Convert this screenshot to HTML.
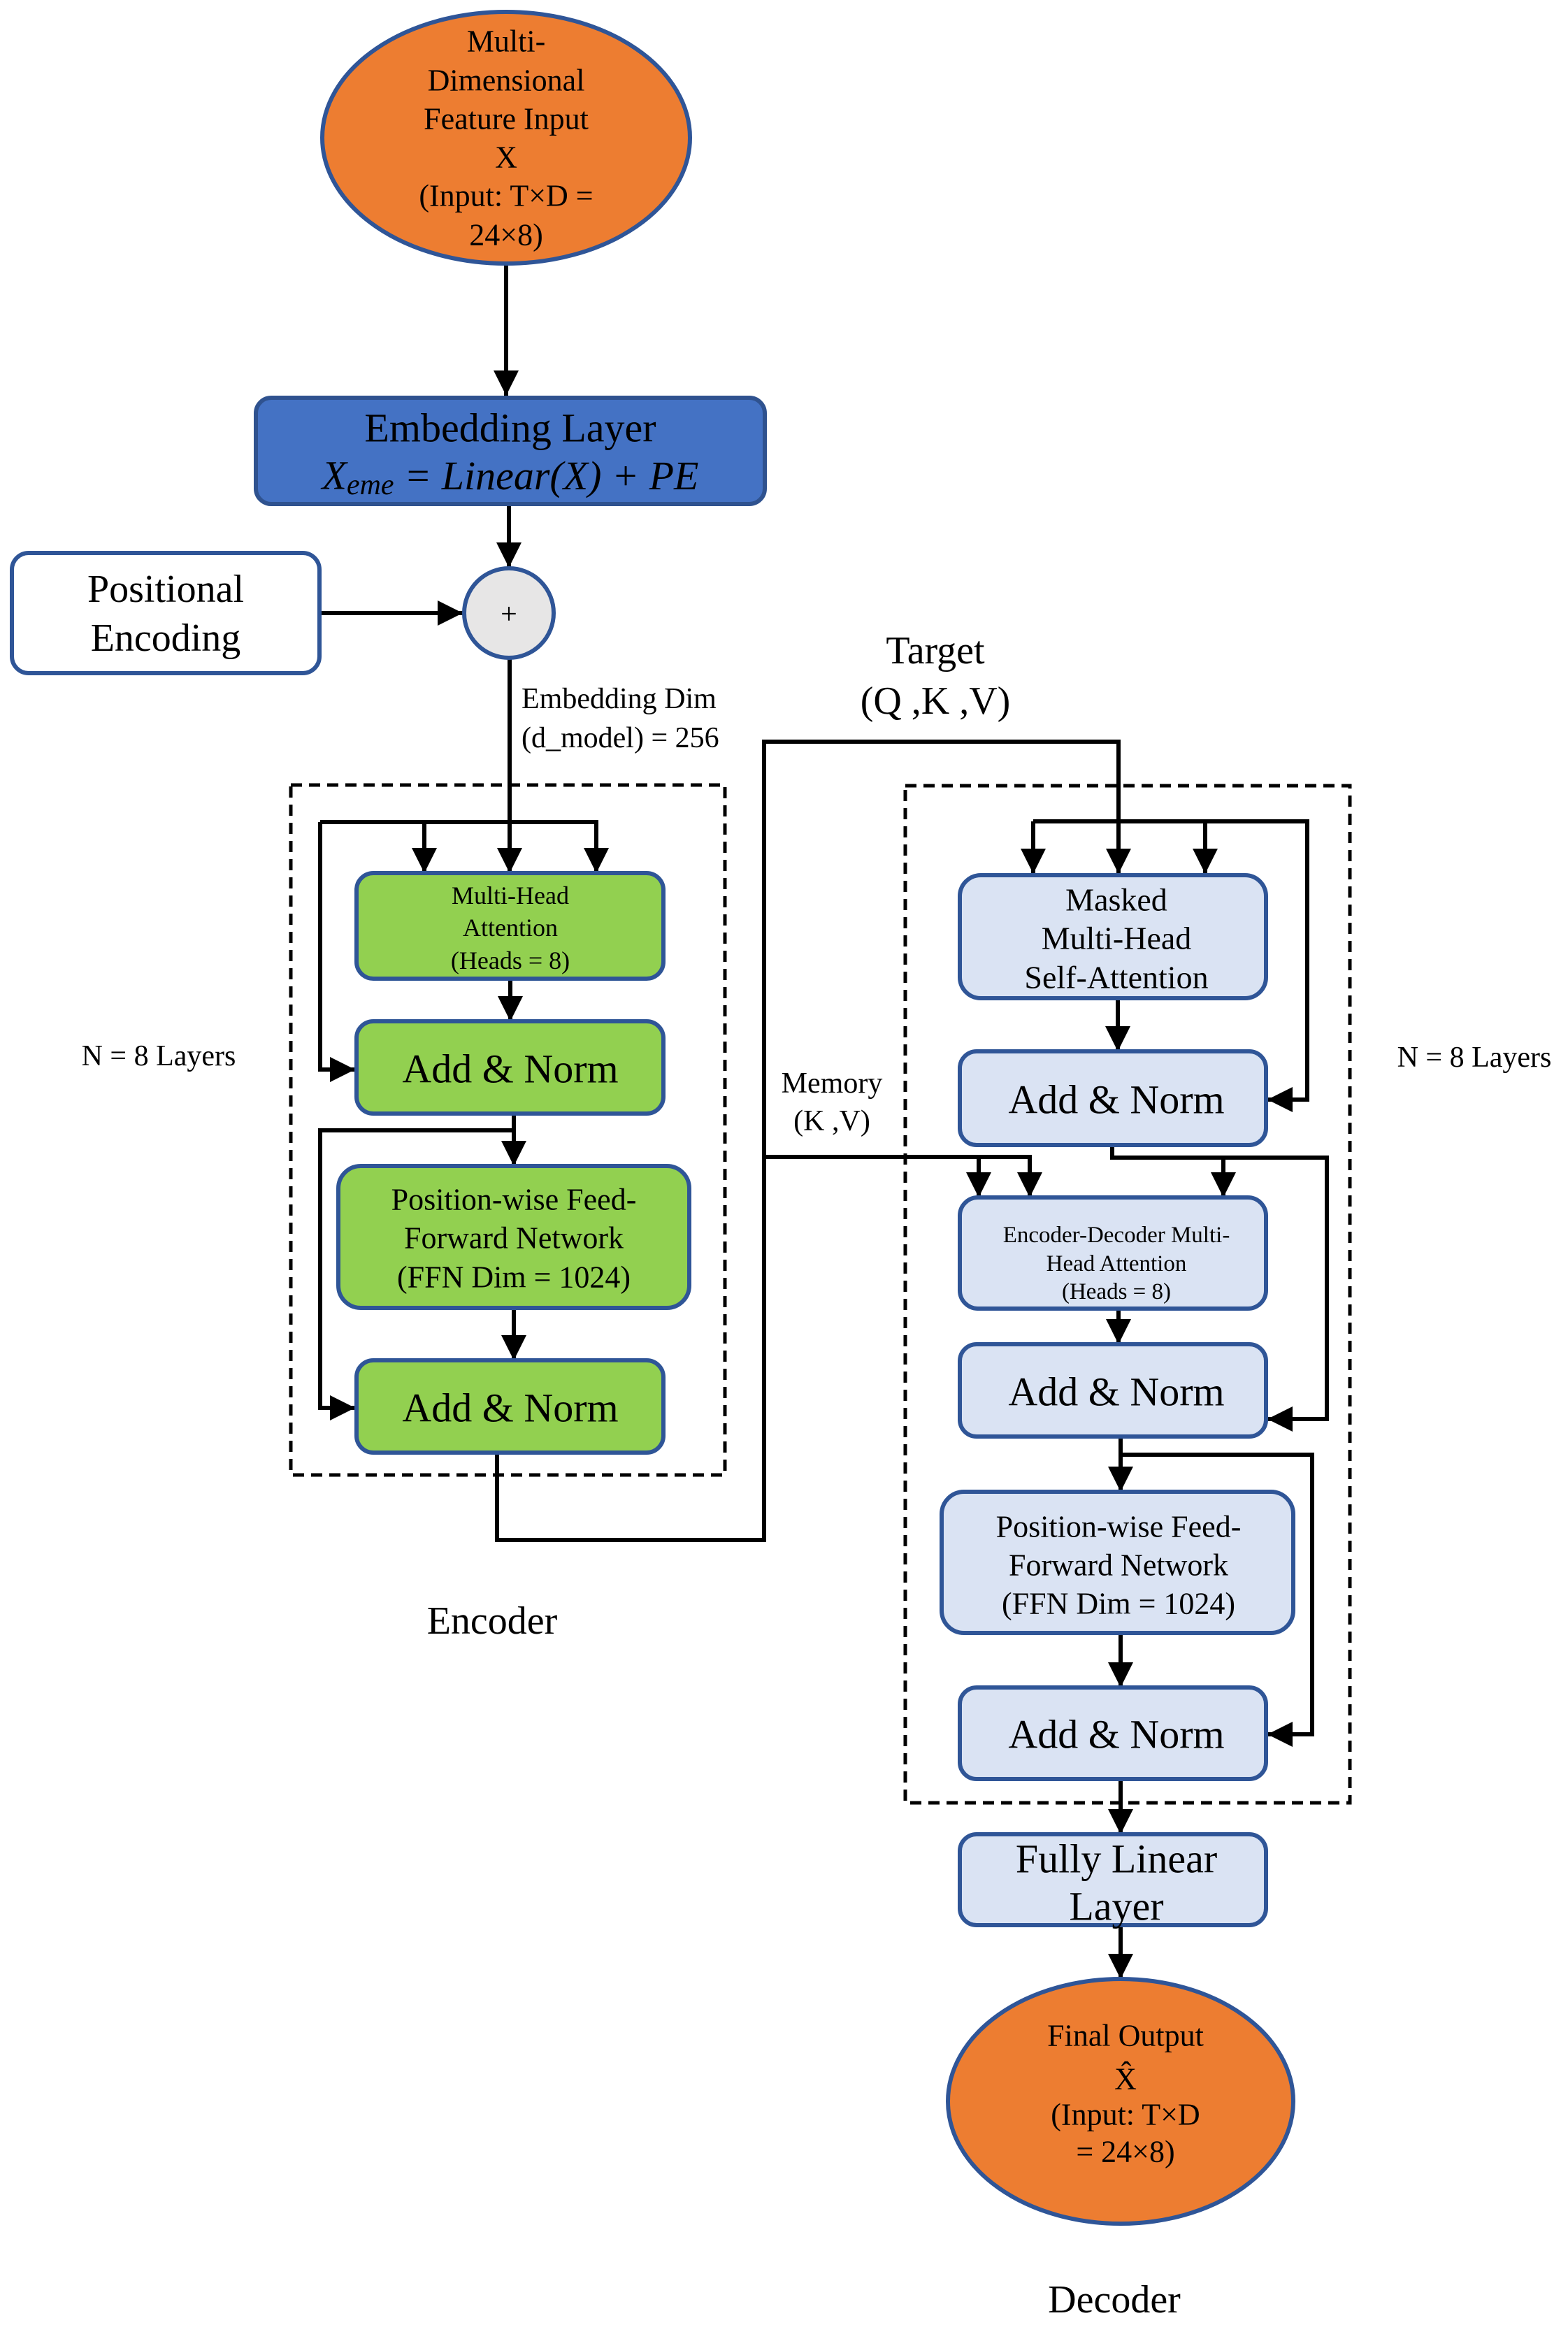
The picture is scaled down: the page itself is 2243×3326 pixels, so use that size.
<!DOCTYPE html>
<html><head><meta charset="utf-8"><style>
html,body{margin:0;padding:0;background:#fff;}
svg{display:block;}
text{font-family:"Liberation Serif","Times New Roman","DejaVu Serif",serif;fill:#000;text-anchor:middle;dominant-baseline:central;}
</style></head><body>
<svg width="2243" height="3326" viewBox="0 0 2243 3326" xmlns="http://www.w3.org/2000/svg">
<defs>
<marker id="a" markerUnits="userSpaceOnUse" markerWidth="38" markerHeight="38" refX="36" refY="18" orient="auto">
<path d="M0,0 L36,18 L0,36 z" fill="#000"/></marker>
</defs>
<g fill="none" stroke="#000" stroke-width="5" stroke-dasharray="16,10">
<rect x="416" y="1123" width="621" height="987"/>
<rect x="1295" y="1124" width="636" height="1455"/>
</g>
<g fill="none" stroke="#000" stroke-width="6">
<path d="M724,377 L724,566" marker-end="url(#a)"/>
<path d="M728,721 L728,812" marker-end="url(#a)"/>
<path d="M457,877 L662,877" marker-end="url(#a)"/>
<path d="M729,940 L729,1249" marker-end="url(#a)"/>
<path d="M458,1176 L458,1530 L508,1530" marker-end="url(#a)"/>
<path d="M458,1176 L853,1176 L853,1249" marker-end="url(#a)"/>
<path d="M607,1176 L607,1249" marker-end="url(#a)"/>
<path d="M730,1400 L730,1461" marker-end="url(#a)"/>
<path d="M735,1593 L735,1668" marker-end="url(#a)"/>
<path d="M735,1617 L458,1617 L458,2014 L508,2014" marker-end="url(#a)"/>
<path d="M735,1871 L735,1946" marker-end="url(#a)"/>
<path d="M711,2078 L711,2203 L1093,2203 L1093,1061 L1600,1061 L1600,1250" marker-end="url(#a)"/>
<path d="M1093,1655 L1473,1655 L1473,1713" marker-end="url(#a)"/>
<path d="M1400,1655 L1400,1713" marker-end="url(#a)"/>
<path d="M1478,1175 L1870,1175 L1870,1573 L1813,1573" marker-end="url(#a)"/>
<path d="M1478,1175 L1478,1250" marker-end="url(#a)"/>
<path d="M1724,1175 L1724,1250" marker-end="url(#a)"/>
<path d="M1599,1428 L1599,1504" marker-end="url(#a)"/>
<path d="M1591,1638 L1591,1656 L1898,1656 L1898,2030 L1813,2030" marker-end="url(#a)"/>
<path d="M1750,1656 L1750,1713" marker-end="url(#a)"/>
<path d="M1600,1872 L1600,1923" marker-end="url(#a)"/>
<path d="M1603,2055 L1603,2134" marker-end="url(#a)"/>
<path d="M1603,2081 L1877,2081 L1877,2481 L1813,2481" marker-end="url(#a)"/>
<path d="M1603,2336 L1603,2414" marker-end="url(#a)"/>
<path d="M1603,2545 L1603,2624" marker-end="url(#a)"/>
<path d="M1603,2754 L1603,2831" marker-end="url(#a)"/>
</g>
<g stroke="#2F5597" stroke-width="6">
<ellipse cx="724" cy="197" rx="263" ry="180" fill="#ED7D31"/>
<rect x="366" y="569" width="728" height="152" rx="22" fill="#4472C4" stroke="#2F528F"/>
<rect x="17" y="791" width="440" height="172" rx="24" fill="#fff"/>
<circle cx="728" cy="877" r="64" fill="#E7E6E6"/>
<rect x="510" y="1249" width="439" height="151" rx="24" fill="#92D050"/>
<rect x="510" y="1461" width="439" height="132" rx="24" fill="#92D050"/>
<rect x="484" y="1668" width="502" height="203" rx="32" fill="#92D050"/>
<rect x="510" y="1946" width="439" height="132" rx="24" fill="#92D050"/>
<rect x="1373" y="1252" width="438" height="176" rx="30" fill="#DAE3F3"/>
<rect x="1373" y="1504" width="438" height="134" rx="24" fill="#DAE3F3"/>
<rect x="1373" y="1713" width="438" height="159" rx="26" fill="#DAE3F3"/>
<rect x="1373" y="1923" width="438" height="132" rx="24" fill="#DAE3F3"/>
<rect x="1347" y="2134" width="503" height="202" rx="32" fill="#DAE3F3"/>
<rect x="1373" y="2414" width="438" height="131" rx="24" fill="#DAE3F3"/>
<rect x="1373" y="2624" width="438" height="130" rx="24" fill="#DAE3F3"/>
<ellipse cx="1603" cy="3006" rx="247" ry="175" fill="#ED7D31"/>
</g>
<g font-size="44">
<text x="724" y="59">Multi-</text>
<text x="724" y="115">Dimensional</text>
<text x="724" y="170">Feature Input</text>
<text x="724" y="225">X</text>
<text x="724" y="280">(Input: T×D =</text>
<text x="724" y="336">24×8)</text>
</g>
<text x="730" y="612" font-size="58">Embedding Layer</text>
<text x="730" y="680" font-size="58" font-style="italic">X<tspan font-size="42" dy="14">eme</tspan><tspan dy="-14"> = Linear(X) + PE</tspan></text>
<text x="237" y="843" font-size="56">Positional</text>
<text x="237" y="913" font-size="56">Encoding</text>
<text x="728" y="879" font-size="42">+</text>
<text x="746" y="1000" font-size="42" style="text-anchor:start">Embedding Dim</text>
<text x="746" y="1056" font-size="42" style="text-anchor:start">(d_model) = 256</text>
<text x="1338" y="931" font-size="56">Target</text>
<text x="1338" y="1003" font-size="56">(Q ,K ,V)</text>
<g font-size="36">
<text x="730" y="1281">Multi-Head</text>
<text x="730" y="1327">Attention</text>
<text x="730" y="1374">(Heads = 8)</text>
</g>
<text x="730" y="1529" font-size="58">Add &amp; Norm</text>
<g font-size="44">
<text x="735" y="1716">Position-wise Feed-</text>
<text x="735" y="1771">Forward Network</text>
<text x="735" y="1827">(FFN Dim = 1024)</text>
</g>
<text x="730" y="2014" font-size="58">Add &amp; Norm</text>
<text x="227" y="1511" font-size="42">N = 8 Layers</text>
<text x="2109" y="1513" font-size="42">N = 8 Layers</text>
<text x="704" y="2319" font-size="56">Encoder</text>
<text x="1190" y="1550" font-size="42">Memory</text>
<text x="1190" y="1604" font-size="42">(K ,V)</text>
<g font-size="46">
<text x="1597" y="1287">Masked</text>
<text x="1597" y="1342">Multi-Head</text>
<text x="1597" y="1398">Self-Attention</text>
</g>
<text x="1597" y="1573" font-size="58">Add &amp; Norm</text>
<g font-size="33">
<text x="1597" y="1767">Encoder-Decoder Multi-</text>
<text x="1597" y="1808">Head Attention</text>
<text x="1597" y="1848">(Heads = 8)</text>
</g>
<text x="1597" y="1991" font-size="58">Add &amp; Norm</text>
<g font-size="44">
<text x="1600" y="2184">Position-wise Feed-</text>
<text x="1600" y="2239">Forward Network</text>
<text x="1600" y="2294">(FFN Dim = 1024)</text>
</g>
<text x="1597" y="2481" font-size="58">Add &amp; Norm</text>
<text x="1597" y="2659" font-size="58">Fully Linear</text>
<text x="1597" y="2727" font-size="58">Layer</text>
<g font-size="44">
<text x="1610" y="2912">Final Output</text>
<text x="1610" y="2974">X̂</text>
<text x="1610" y="3025">(Input: T×D</text>
<text x="1610" y="3078">= 24×8)</text>
</g>
<text x="1594" y="3290" font-size="56">Decoder</text>
</svg>
</body></html>
